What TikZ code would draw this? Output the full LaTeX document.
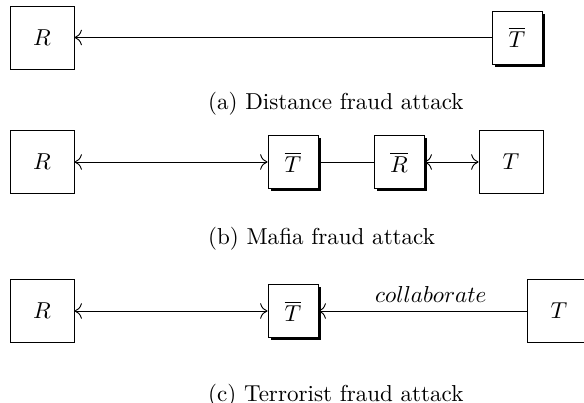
\documentclass[tikz,border=0pt]{standalone}
\usetikzlibrary{shadows,arrows.meta}
\def\px{0.01525cm}
\begin{document}
\begin{tikzpicture}[x=0.01525cm, y=-0.01525cm, >={To[scale=1.3]},
    party/.style={draw, fill=white, inner sep=0pt,
        minimum width={64*\px}, minimum height={63*\px}},
    fake/.style={draw, fill=white, inner sep=0pt,
        minimum width={50*\px}, minimum height={53*\px},
        drop shadow={shadow xshift=1.3pt, shadow yshift=-1.3pt, fill=black, opacity=1}},
    caption/.style={anchor=west}]
    \useasboundingbox (0,0) rectangle (584,403);

    % ======== (a) distance fraud ========
    \node[party] (Ra)  at (42,37.5)  {$R$};
    \node[fake]  (Tfa) at (517,37.5) {$\overline{T}$};
    \draw[->] (Tfa) -- (Ra);
    \node[caption] (capa) at (200,103.5) {(a) Distance fraud attack};

    % ======== (b) mafia fraud ========
    \node[party] (Rb)  at (42,162)  {$R$};
    \node[fake]  (Tfb) at (293,162) {$\overline{T}$};
    \node[fake]  (Rfb) at (399,162) {$\overline{R}$};
    \node[party] (Tb)  at (511,162) {$T$};
    \draw[<->] (Rb) -- (Tfb);
    \draw (Tfb) -- (Rfb);
    \draw[<->] (Rfb) -- (Tb);
    \node[caption] (capb) at (200,238.5) {(b) Mafia fraud attack};

    % ======== (c) terrorist fraud ========
    \node[party] (Rc)  at (42,311)  {$R$};
    \node[fake]  (Tfc) at (293,311) {$\overline{T}$};
    \node[party] (Tc)  at (559,311) {$T$};
    \draw[<->] (Rc) -- (Tfc);
    \draw[->] (Tc) -- node[above, pos=0.46] {$collaborate$} (Tfc);
    \node[caption] (capc) at (200,396) {(c) Terrorist fraud attack};
\end{tikzpicture}
\end{document}
